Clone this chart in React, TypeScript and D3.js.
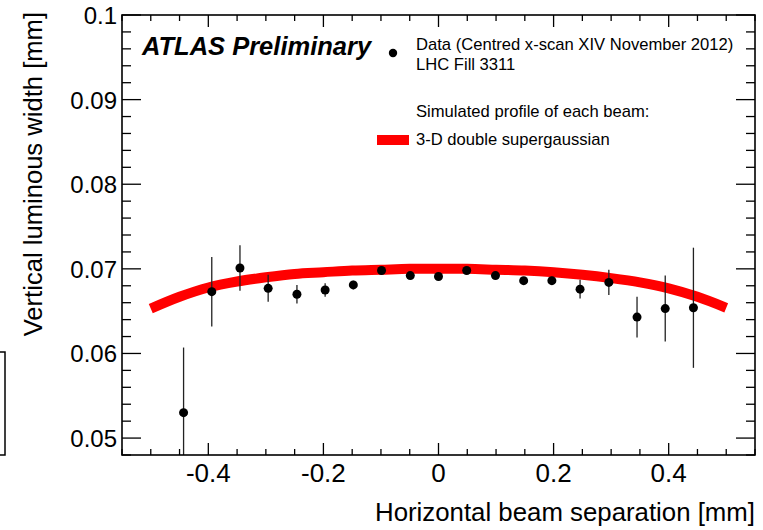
import React from "react";
import * as d3 from "d3";

const dataX = [-0.443, -0.394, -0.345, -0.296, -0.246, -0.197, -0.148, -0.099, -0.049, 0, 0.049, 0.099, 0.148, 0.197, 0.246, 0.296, 0.345, 0.394, 0.443];
const dataY = [0.053, 0.0673, 0.0701, 0.0677, 0.067, 0.0675, 0.0681, 0.0698, 0.0692, 0.0691, 0.0698, 0.0692, 0.0686, 0.0686, 0.0676, 0.0684, 0.0643, 0.0653, 0.0654];
const dataErr = [0.0077, 0.0041, 0.0027, 0.0016, 0.0011, 0.0008, 0.0005, 0.0003, 0.0003, 0.0003, 0.0003, 0.0003, 0.0004, 0.0005, 0.0011, 0.0015, 0.0024, 0.0039, 0.0071];

const curveX = [-0.5, -0.45, -0.4, -0.35, -0.3, -0.25, -0.2, -0.15, -0.1, -0.05, 0, 0.05, 0.1, 0.15, 0.2, 0.25, 0.3, 0.35, 0.4, 0.45, 0.5];
const curveY = [0.0653, 0.0667, 0.0678, 0.0685, 0.069, 0.0694, 0.0696, 0.0698, 0.0699, 0.07, 0.07, 0.07, 0.0699, 0.0698, 0.0696, 0.0693, 0.0689, 0.0684, 0.0677, 0.0667, 0.0654];

const xMajor = [-0.4, -0.2, 0, 0.2, 0.4];
const xMajorLabels = ["-0.4", "-0.2", "0", "0.2", "0.4"];
const yMajor = [0.05, 0.06, 0.07, 0.08, 0.09, 0.1];
const yMajorLabels = ["0.05", "0.06", "0.07", "0.08", "0.09", "0.1"];

const left = 122, right = 755, top = 15, bottom = 455;

export default function App() {
  const x = d3.scaleLinear().domain([-0.55, 0.55]).range([left, right]);
  const y = d3.scaleLinear().domain([0.048, 0.1]).range([bottom, top]);

  const xMinor = d3.range(-0.55, 0.5501, 0.05).filter((v) => !xMajor.some((m) => Math.abs(m - v) < 1e-6));
  const yMinor = d3.range(0.048, 0.1001, 0.002).filter((v) => !yMajor.some((m) => Math.abs(m - v) < 1e-6));

  const line = d3
    .line<number>()
    .x((_, i) => x(curveX[i]))
    .y((d) => y(d))
    .curve(d3.curveCatmullRom);

  const font = "'Liberation Sans', Arial, Helvetica, sans-serif";

  return (
    <svg width={763} height={530} style={{ position: "absolute", left: 0, top: 0, background: "#fff" }} fontFamily={font}>
      <defs>
        <clipPath id="frame">
          <rect x={left} y={top} width={right - left} height={bottom - top} />
        </clipPath>
      </defs>
      <rect x={0} y={0} width={763} height={530} fill="#fff" />
      {/* partial box at left edge */}
      <rect x={-10} y={352} width={15} height={103} fill="none" stroke="#000" strokeWidth={1.5} />

      {/* curve */}
      <path d={line(curveY) || ""} fill="none" stroke="#ff0000" strokeWidth={10} strokeLinecap="butt" clipPath="url(#frame)" />

      {/* data */}
      <g clipPath="url(#frame)">
        {dataX.map((dx, i) => (
          <g key={i}>
            <line x1={x(dx)} x2={x(dx)} y1={y(dataY[i] - dataErr[i])} y2={y(dataY[i] + dataErr[i])} stroke="#222" strokeWidth={1.3} />
            <circle cx={x(dx)} cy={y(dataY[i])} r={4.5} fill="#000" />
          </g>
        ))}
      </g>

      {/* frame */}
      <rect x={left} y={top} width={right - left} height={bottom - top} fill="none" stroke="#000" strokeWidth={1.6} />

      {/* x ticks */}
      {xMajor.map((v) => (
        <g key={"xm" + v}>
          <line x1={x(v)} x2={x(v)} y1={bottom} y2={bottom - 12} stroke="#000" strokeWidth={1.3} />
          <line x1={x(v)} x2={x(v)} y1={top} y2={top + 12} stroke="#000" strokeWidth={1.3} />
        </g>
      ))}
      {xMinor.map((v, i) => (
        <g key={"xn" + i}>
          <line x1={x(v)} x2={x(v)} y1={bottom} y2={bottom - 6} stroke="#000" strokeWidth={1.3} />
          <line x1={x(v)} x2={x(v)} y1={top} y2={top + 6} stroke="#000" strokeWidth={1.3} />
        </g>
      ))}
      {xMajor.map((v, i) => (
        <text key={"xl" + v} x={x(v)} y={482} fontSize={26} textAnchor="middle" fill="#000">
          {xMajorLabels[i]}
        </text>
      ))}

      {/* y ticks */}
      {yMajor.map((v) => (
        <g key={"ym" + v}>
          <line x1={left} x2={left + 19} y1={y(v)} y2={y(v)} stroke="#000" strokeWidth={1.3} />
          <line x1={right} x2={right - 19} y1={y(v)} y2={y(v)} stroke="#000" strokeWidth={1.3} />
        </g>
      ))}
      {yMinor.map((v, i) => (
        <g key={"yn" + i}>
          <line x1={left} x2={left + 9} y1={y(v)} y2={y(v)} stroke="#000" strokeWidth={1.3} />
          <line x1={right} x2={right - 9} y1={y(v)} y2={y(v)} stroke="#000" strokeWidth={1.3} />
        </g>
      ))}
      {yMajor.map((v, i) => (
        <text key={"yl" + v} x={117} y={y(v) + 9} fontSize={24} textAnchor="end" fill="#000">
          {yMajorLabels[i]}
        </text>
      ))}

      {/* axis titles */}
      <text x={755} y={521} fontSize={25.8} textAnchor="end" fill="#000">
        Horizontal beam separation [mm]
      </text>
      <text transform="translate(42,12) rotate(-90)" fontSize={25.6} textAnchor="end" fill="#000">
        Vertical luminous width [mm]
      </text>

      {/* labels */}
      <text x={142} y={55} fontSize={25.5} fontWeight="bold" fontStyle="italic" fill="#000">
        ATLAS Preliminary
      </text>
      <circle cx={393} cy={53} r={4.2} fill="#000" />
      <text x={416} y={50} fontSize={16.6} fill="#000">
        Data (Centred x-scan XIV November 2012)
      </text>
      <text x={416} y={70} fontSize={16.6} fill="#000">
        LHC Fill 3311
      </text>
      <text x={416} y={117} fontSize={16.6} fill="#000">
        Simulated profile of each beam:
      </text>
      <rect x={377} y={135} width={32} height={10} fill="#ff0000" />
      <text x={416} y={145} fontSize={16.6} fill="#000">
        3-D double supergaussian
      </text>
    </svg>
  );
}
